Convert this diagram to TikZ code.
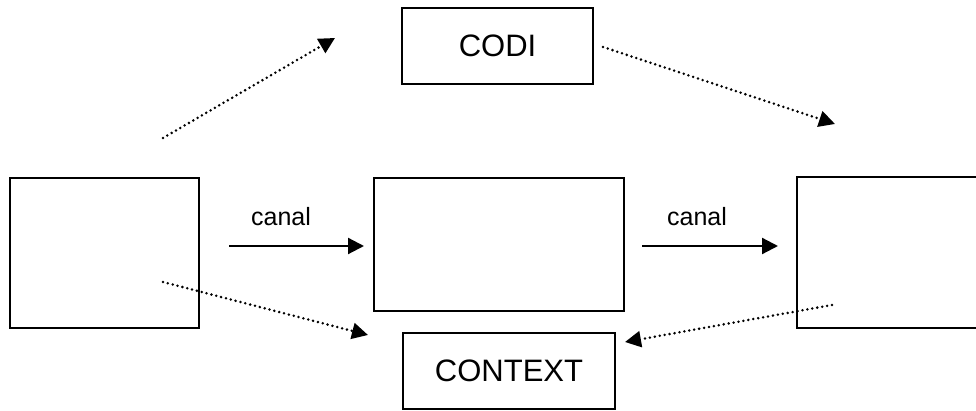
\documentclass[tikz,border=0pt]{standalone}
\usepackage{fontspec}
\setmainfont{Liberation Sans}
\usetikzlibrary{arrows.meta}
\begin{document}
\begin{tikzpicture}[x=1pt,y=-1pt,
  box/.style={draw=black,line width=2pt,rectangle,inner sep=0pt},
  big/.style={font=\fontsize{31}{36}\selectfont},
  lbl/.style={font=\fontsize{25}{30}\selectfont,anchor=base,inner sep=0pt},
  solidarrow/.style={line width=2.2pt,-{Triangle[length=16pt,width=16pt]}},
  dotarrow/.style={line width=2.8pt,line cap=round,dash pattern=on 0pt off 5pt,-{Triangle[length=16pt,width=16pt]}}]
\useasboundingbox (0,0) rectangle (976,411);
\clip (0,0) rectangle (976,411);
\node[box,minimum width=189pt,minimum height=150pt] (left) at (104.5,253) {};
\node[box,minimum width=250pt,minimum height=133pt] (center) at (499,244.5) {};
\node[box,minimum width=213pt,minimum height=151pt] (right) at (903.5,252.5) {};
\node[box,big,minimum width=191pt,minimum height=76pt] (codi) at (497.5,46) {CODI};
\node[box,big,minimum width=212pt,minimum height=76pt] (context) at (509,371) {CONTEXT};
\node[lbl] (canal1) at (281,226) {canal};
\node[lbl] (canal2) at (697,226) {canal};
\coordinate (a1s) at (229,246); \coordinate (a1e) at (364,246);
\coordinate (a2s) at (642,246); \coordinate (a2e) at (778,246);
\coordinate (d1s) at (163,138); \coordinate (d1e) at (335,38);
\coordinate (d2s) at (603,47);  \coordinate (d2e) at (835,124);
\coordinate (d3s) at (163,282); \coordinate (d3e) at (368,335);
\coordinate (d4s) at (832,305); \coordinate (d4e) at (625,342);
\draw[solidarrow] (a1s) -- (a1e);
\draw[solidarrow] (a2s) -- (a2e);
\draw[dotarrow] (d1s) -- (d1e);
\draw[dotarrow] (d2s) -- (d2e);
\draw[dotarrow] (d3s) -- (d3e);
\draw[dotarrow] (d4s) -- (d4e);
\end{tikzpicture}
\end{document}
